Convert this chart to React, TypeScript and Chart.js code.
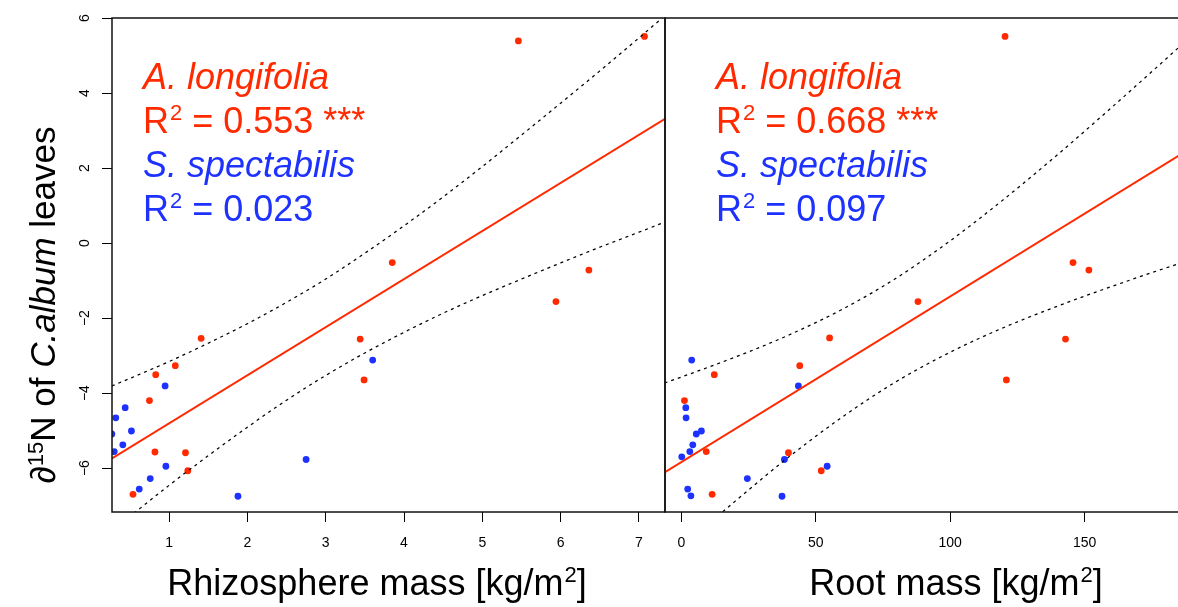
import React, { useEffect, useRef } from "react";
import { Chart, registerables } from "chart.js";

Chart.register(...registerables);

const FONT = '"Liberation Sans", Arial, Helvetica, sans-serif';
const RED = "#FF2A00";
const BLUE = "#1E32FF";

// ---- Left panel: Rhizosphere mass ----
const rhizoRedX = [1.41, 1.08, 0.83, 0.75, 0.82, 1.21, 1.24, 0.54, 3.44, 3.49, 3.85, 5.94, 6.36, 5.46, 7.07];
const rhizoRedY = [-2.54, -3.27, -3.51, -4.2, -5.57, -5.59, -6.07, -6.7, -2.56, -3.65, -0.52, -1.56, -0.72, 5.39, 5.51];
const rhizoBlueX = [0.27, 0.32, 0.44, 0.52, 0.41, 0.3, 0.95, 0.96, 0.76, 0.62, 1.88, 2.75, 3.6];
const rhizoBlueY = [-5.09, -4.66, -4.39, -5.01, -5.38, -5.56, -3.81, -5.95, -6.28, -6.56, -6.75, -5.77, -3.12];
const rhizoFitX = [0.272, 7.332];
const rhizoFitY = [-5.74, 3.31];
const rhizoBandX = [0.27, 0.5, 1, 1.5, 2, 2.5, 3, 3.5, 4, 4.5, 5, 5.5, 6, 6.5, 7, 7.33];
const rhizoUpper = [-3.81, -3.61, -3.16, -2.67, -2.15, -1.58, -0.96, -0.27, 0.46, 1.23, 2.04, 2.88, 3.73, 4.59, 5.47, 6.06];
const rhizoLower = [-7.67, -7.29, -6.46, -5.67, -4.91, -4.19, -3.53, -2.93, -2.38, -1.87, -1.4, -0.96, -0.53, -0.11, 0.29, 0.56];
const rhizoTicks = [1, 2, 3, 4, 5, 6, 7];
const rhizoStats = ["A. longifolia", "R² = 0.553 ***", "S. spectabilis", "R² = 0.023"];
const rhizoTitle = "Rhizosphere mass [kg/m²]";

// ---- Right panel: Root mass ----
const rootRedX = [1.1, 12.2, 9.2, 11.4, 44.0, 39.8, 52.0, 55.1, 88.0, 145.7, 151.6, 142.9, 120.9, 120.4];
const rootRedY = [-4.2, -3.51, -5.56, -6.7, -3.27, -5.59, -6.07, -2.53, -1.56, -0.52, -0.72, -2.56, -3.65, 5.51];
const rootBlueX = [3.8, 1.6, 1.7, 5.5, 7.4, 4.2, 3.1, 0.1, 2.3, 3.5, 24.5, 37.4, 38.3, 43.5, 54.2];
const rootBlueY = [-3.12, -4.39, -4.66, -5.09, -5.01, -5.38, -5.56, -5.7, -6.56, -6.74, -6.28, -6.75, -5.77, -3.81, -5.95];
const rootFitX = [-6.14, 209.7];
const rootFitY = [-6.11, 3.42];
const rootBandX = [-6.3, 0, 20, 40, 60, 80, 100, 120, 140, 160, 180, 200, 210];
const rootUpper = [-3.73, -3.57, -3.04, -2.45, -1.76, -0.93, 0.06, 1.17, 2.36, 3.61, 4.89, 6.19, 6.84];
const rootLower = [-8.51, -8.11, -6.88, -5.7, -4.63, -3.69, -2.91, -2.25, -1.68, -1.16, -0.67, -0.21, 0.02];
const rootTicks = [0, 50, 100, 150, 200];
const rootStats = ["A. longifolia", "R² = 0.668 ***", "S. spectabilis", "R² = 0.097"];
const rootTitle = "Root mass [kg/m²]";

// ---- Shared y axis ----
const yMin = -7.17;
const yMax = 6;
const yTicks = [-6, -4, -2, 0, 2, 4, 6];

const pts = (xs: number[], ys: number[]) => xs.map((x, i) => ({ x, y: ys[i] }));

function datasets(
  redX: number[], redY: number[], blueX: number[], blueY: number[],
  fitX: number[], fitY: number[], bandX: number[], up: number[], lo: number[]
) {
  const band = (data: any) => ({
    data,
    showLine: true,
    borderColor: "#000",
    borderWidth: 1.25,
    borderDash: [3, 4],
    pointRadius: 0,
    cubicInterpolationMode: "monotone",
    clip: 0,
  });
  return [
    band(pts(bandX, up)),
    band(pts(bandX, lo)),
    {
      data: pts(fitX, fitY),
      showLine: true,
      borderColor: RED,
      borderWidth: 2,
      pointRadius: 0,
      clip: 0,
    },
    {
      data: pts(redX, redY),
      backgroundColor: RED,
      borderWidth: 0,
      pointRadius: 3.4,
      clip: 0,
    },
    {
      data: pts(blueX, blueY),
      backgroundColor: BLUE,
      borderWidth: 0,
      pointRadius: 3.4,
      clip: 0,
    },
  ];
}

// draws text, rendering "²" as a raised smaller "2"
function drawSup(ctx: CanvasRenderingContext2D, text: string, x: number, y: number, size: number) {
  const parts = text.split("²");
  let cx = x;
  parts.forEach((p, i) => {
    ctx.font = `${size}px ${FONT}`;
    ctx.fillText(p, cx, y);
    cx += ctx.measureText(p).width;
    if (i < parts.length - 1) {
      const s = Math.round(size * 0.62);
      ctx.font = `${s}px ${FONT}`;
      ctx.fillText("2", cx + 1, y - size * 0.36);
      cx += ctx.measureText("2").width + 1;
    }
  });
}

function drawStats(ctx: CanvasRenderingContext2D, x: number, stats: string[]) {
  ctx.save();
  ctx.textAlign = "left";
  ctx.textBaseline = "alphabetic";
  ctx.fillStyle = RED;
  ctx.font = `italic 36px ${FONT}`;
  ctx.fillText(stats[0], x, 89);
  drawSup(ctx, stats[1], x, 133, 36);
  ctx.fillStyle = BLUE;
  ctx.font = `italic 36px ${FONT}`;
  ctx.fillText(stats[2], x, 177);
  drawSup(ctx, stats[3], x, 221, 36);
  ctx.restore();
}

function drawFrame(chart: any) {
  const { ctx, chartArea: a } = chart;
  ctx.save();
  ctx.strokeStyle = "#111";
  ctx.lineWidth = 1.5;
  ctx.strokeRect(a.left, a.top, a.right - a.left, a.bottom - a.top);
  ctx.restore();
}

function drawXTitle(chart: any, text: string, cx: number) {
  const { ctx } = chart;
  ctx.save();
  ctx.fillStyle = "#000";
  ctx.textAlign = "left";
  ctx.textBaseline = "alphabetic";
  // measure with superscript to center
  const parts = text.split("²");
  ctx.font = `36px ${FONT}`;
  let w = 0;
  parts.forEach((p) => { w += ctx.measureText(p).width; });
  ctx.font = `${Math.round(36 * 0.62)}px ${FONT}`;
  w += (parts.length - 1) * (ctx.measureText("2").width + 1);
  drawSup(ctx, text, cx - w / 2, 595, 36);
  ctx.restore();
}

function drawYTitle(chart: any) {
  const { ctx } = chart;
  const runs = [
    { t: "∂", f: `35px ${FONT}`, dy: 0 },
    { t: "15", f: `22px ${FONT}`, dy: -12 },
    { t: "N of ", f: `35px ${FONT}`, dy: 0 },
    { t: "C.album", f: `italic 35px ${FONT}`, dy: 0 },
    { t: " leaves", f: `35px ${FONT}`, dy: 0 },
  ];
  ctx.save();
  ctx.fillStyle = "#000";
  ctx.textAlign = "left";
  ctx.textBaseline = "alphabetic";
  let total = 0;
  for (const r of runs) {
    ctx.font = r.f;
    total += ctx.measureText(r.t).width;
  }
  ctx.translate(55, 305);
  ctx.rotate(-Math.PI / 2);
  let x = -total / 2;
  for (const r of runs) {
    ctx.font = r.f;
    ctx.fillText(r.t, x, r.dy);
    x += ctx.measureText(r.t).width;
  }
  ctx.restore();
}

const minusFmt = (v: any) => (Number(v) < 0 ? "\u2212" + Math.abs(Number(v)) : String(v));

const tickGrid = { display: true, drawOnChartArea: false, drawTicks: true, tickLength: 10, tickColor: "#000", lineWidth: 1 };

export default function App() {
  const leftRef = useRef<HTMLCanvasElement | null>(null);
  const rightRef = useRef<HTMLCanvasElement | null>(null);

  useEffect(() => {
    const common = {
      animation: false as const,
      responsive: false,
      devicePixelRatio: 1,
      events: [] as any[],
      plugins: { legend: { display: false }, tooltip: { enabled: false } },
    };

    const left = new Chart(leftRef.current as HTMLCanvasElement, {
      type: "scatter",
      data: {
        datasets: datasets(rhizoRedX, rhizoRedY, rhizoBlueX, rhizoBlueY, rhizoFitX, rhizoFitY, rhizoBandX, rhizoUpper, rhizoLower) as any,
      },
      options: {
        ...common,
        layout: { padding: { left: 0, right: 15, top: 18, bottom: 0 } },
        scales: {
          x: {
            type: "linear",
            min: 0.272,
            max: 7.332,
            afterBuildTicks: (s: any) => { s.ticks = rhizoTicks.map((v) => ({ value: v })); },
            afterFit: (s: any) => { s.height = 95; },
            grid: tickGrid,
            border: { display: false },
            ticks: { autoSkip: false, maxRotation: 0, padding: 13, color: "#000", font: { family: FONT, size: 14 } },
          },
          y: {
            type: "linear",
            min: yMin,
            max: yMax,
            afterBuildTicks: (s: any) => { s.ticks = yTicks.map((v) => ({ value: v })); },
            afterFit: (s: any) => { s.width = 112; },
            grid: tickGrid,
            border: { display: false },
            ticks: {
              minRotation: 90,
              maxRotation: 90,
              crossAlign: "center",
              padding: 9,
              color: "#000",
              font: { family: FONT, size: 14 },
              callback: minusFmt,
            },
          },
        },
      } as any,
      plugins: [
        {
          id: "leftDecor",
          afterDraw(chart: any) {
            drawFrame(chart);
            drawStats(chart.ctx, 143, rhizoStats);
            drawXTitle(chart, rhizoTitle, 377);
            drawYTitle(chart);
          },
        },
      ],
    });

    const right = new Chart(rightRef.current as HTMLCanvasElement, {
      type: "scatter",
      data: {
        datasets: datasets(rootRedX, rootRedY, rootBlueX, rootBlueY, rootFitX, rootFitY, rootBandX, rootUpper, rootLower) as any,
      },
      options: {
        ...common,
        layout: { padding: { left: 65, right: 55, top: 18, bottom: 0 } },
        scales: {
          x: {
            type: "linear",
            min: -6.14,
            max: 209.7,
            afterBuildTicks: (s: any) => { s.ticks = rootTicks.map((v) => ({ value: v })); },
            afterFit: (s: any) => { s.height = 95; },
            grid: tickGrid,
            border: { display: false },
            ticks: { autoSkip: false, maxRotation: 0, padding: 13, color: "#000", font: { family: FONT, size: 14 } },
          },
          y: {
            type: "linear",
            display: false,
            min: yMin,
            max: yMax,
          },
        },
      } as any,
      plugins: [
        {
          id: "rightDecor",
          afterDraw(chart: any) {
            drawFrame(chart);
            drawStats(chart.ctx, 116, rootStats);
            drawXTitle(chart, rootTitle, 356);
          },
        },
      ],
    });

    return () => {
      left.destroy();
      right.destroy();
    };
  }, []);

  return (
    <div style={{ position: "fixed", left: 0, top: 0, width: 1178, height: 607, overflow: "hidden", background: "#fff" }}>
      <canvas ref={leftRef} width={680} height={607} style={{ position: "absolute", left: 0, top: 0 }} />
      <canvas ref={rightRef} width={700} height={607} style={{ position: "absolute", left: 600, top: 0 }} />
    </div>
  );
}
